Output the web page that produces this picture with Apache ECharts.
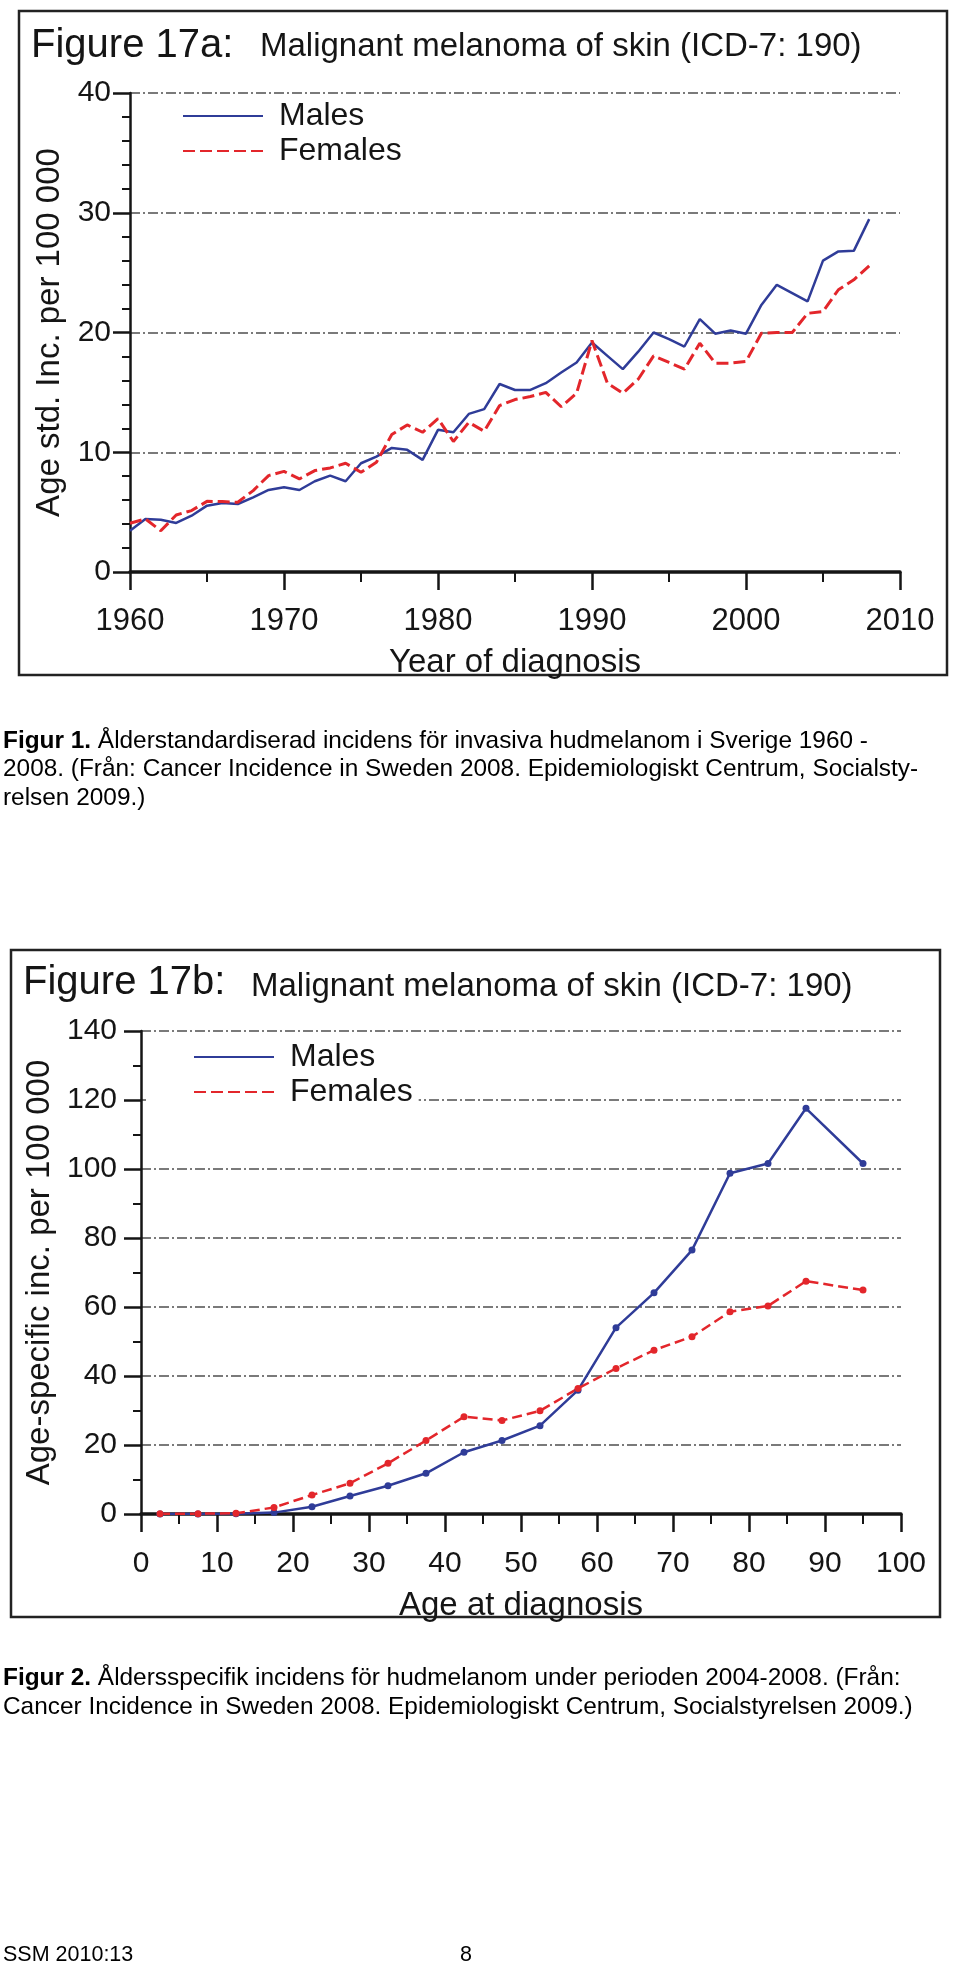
<!DOCTYPE html>
<html><head><meta charset="utf-8">
<script src="https://cdn.jsdelivr.net/npm/echarts@6/dist/echarts.min.js"></script>
<style>html,body{margin:0;padding:0;background:#fff;}#c{width:960px;height:1962px;}</style>
</head><body><div id="c"></div>
<script>
// ---- Figure 17a data: age standardised incidence per 100 000, by year ----
const years = [1960,1961,1962,1963,1964,1965,1966,1967,1968,1969,1970,1971,1972,1973,1974,1975,1976,1977,1978,1979,1980,1981,1982,1983,1984,1985,1986,1987,1988,1989,1990,1991,1992,1993,1994,1995,1996,1997,1998,1999,2000,2001,2002,2003,2004,2005,2006,2007,2008];
const malesStd = [3.45,4.43,4.37,4.1,4.7,5.54,5.77,5.68,6.24,6.85,7.08,6.85,7.58,8.05,7.58,9.08,9.64,10.36,10.2,9.36,11.87,11.67,13.2,13.6,15.7,15.2,15.2,15.77,16.66,17.5,19.16,18.05,16.94,18.4,20.0,19.44,18.83,21.11,19.9,20.17,19.9,22.3,23.98,23.29,22.6,26.0,26.77,26.82,29.47];
const femalesStd = [4.07,4.43,3.45,4.76,5.13,5.9,5.88,5.82,6.8,8.05,8.4,7.77,8.47,8.69,9.08,8.33,9.16,11.48,12.28,11.67,12.8,10.9,12.5,11.75,13.9,14.4,14.65,15.0,13.8,14.93,19.33,15.77,14.93,16.1,18.05,17.5,16.94,19.1,17.44,17.44,17.58,19.94,20.0,20.0,21.6,21.75,23.57,24.4,25.57];
const yearTicks = {min:1960, max:2010, step:10};
const stdTicks = {min:0, max:40, step:10};

// ---- Figure 17b data: age specific incidence per 100 000, 2004-2008 ----
const ages = [2.5,7.5,12.5,17.5,22.5,27.5,32.5,37.5,42.5,47.5,52.5,57.5,62.5,67.5,72.5,77.5,82.5,87.5,95];
const malesAge = [0.0,0.0,0.1,0.4,2.1,5.2,8.2,11.8,17.9,21.3,25.6,35.9,54.0,64.1,76.5,98.75,101.6,117.6,101.6];
const femalesAge = [0.1,0.1,0.2,1.9,5.5,8.9,14.7,21.3,28.2,27.1,29.9,36.4,42.2,47.5,51.4,58.6,60.3,67.5,64.9];
const ageTicks = {min:0, max:100, step:10};
const ageIncTicks = {min:0, max:140, step:20};

const seriesNames = ['Males','Females'];

const REG = "'Liberation Sans', Arial, Helvetica, sans-serif";
const BLUE = '#2f3c98', RED = '#e3262b', INK = '#151515';

function xAx(grid, t, name, lblSize, lblMargin, nameGap){
  return {gridIndex:grid, type:'value', min:t.min, max:t.max, interval:t.step,
    axisLine:{onZero:false, lineStyle:{color:INK, width:3.5}},
    axisTick:{show:true, length:18, lineStyle:{color:INK, width:2.5}},
    minorTick:{show:true, splitNumber:2, length:10, lineStyle:{color:INK, width:2}},
    splitLine:{show:false},
    axisLabel:{fontFamily:REG, fontSize:lblSize, color:INK, margin:lblMargin, formatter:v=>String(v)},
    name:name, nameLocation:'middle', nameGap:nameGap,
    nameTextStyle:{fontFamily:REG, fontSize:33, color:INK}};
}
function yAx(grid, t, minorSplit, lblMargin, name, nameGap){
  return {gridIndex:grid, type:'value', min:t.min, max:t.max, interval:t.step,
    axisLine:{show:true, onZero:false, lineStyle:{color:INK, width:2.5}},
    axisTick:{show:true, length:17, lineStyle:{color:INK, width:2.5}},
    minorTick:{show:true, splitNumber:minorSplit, length:8, lineStyle:{color:INK, width:2}},
    splitLine:{show:true, lineStyle:{color:'#7a7a7a', width:2, type:[10,3,2,3]}},
    axisLabel:{fontFamily:REG, fontSize:30, color:INK, margin:lblMargin, formatter:v=>String(v)},
    name:name, nameLocation:'middle', nameGap:nameGap, nameRotate:90,
    nameTextStyle:{fontFamily:REG, fontSize:33, color:INK}};
}
function legendAt(left, top, padLeft, bg){
  return {orient:'vertical', left:left, top:top, itemWidth:80, itemHeight:14, itemGap:1,
    padding:[4,6,8,padLeft], backgroundColor:bg, data:seriesNames,
    itemStyle:{opacity:0}, selectedMode:false,
    textStyle:{fontFamily:REG, fontSize:32, lineHeight:26, color:INK, padding:[8,0,0,11]}};
}
function caption(x, y, text, size){
  size = size || 24.4;
  return {type:'text', left:x, top:y, style:{text:text, fontFamily:REG, fontSize:size, fill:'#000',
    rich:{b:{fontFamily:REG, fontSize:size, fontWeight:'bold', fill:'#000'}}}};
}
function heading(x, y, text, size){
  return {type:'text', left:x, top:y, style:{text:text, fontFamily:REG, fontSize:size, fill:INK}};
}

const option = {
  animation:false,
  backgroundColor:'#fff',
  grid:[{left:130, top:93, width:770, height:479}, {left:141, top:1031, width:760, height:483}],
  xAxis:[xAx(0, yearTicks, 'Year of diagnosis', 31, 34, 74), xAx(1, ageTicks, 'Age at diagnosis', 30, 35, 75)],
  yAxis:[yAx(0, stdTicks, 5, 19, 'Age std. Inc. per 100 000', 62), yAx(1, ageIncTicks, 2, 24, 'Age-specific inc. per 100 000', 75)],
  legend:[legendAt(135, 95, 47, 'transparent'), legendAt(146, 1036, 47, '#fff')],
  series:[
    {name:'Males', type:'line', xAxisIndex:0, yAxisIndex:0, symbol:'none',
     lineStyle:{color:BLUE, width:2.5}, itemStyle:{color:BLUE},
     data:years.map((y,i)=>[y, malesStd[i]])},
    {name:'Females', type:'line', xAxisIndex:0, yAxisIndex:0, symbol:'none',
     lineStyle:{color:RED, width:3, type:[12,5]}, itemStyle:{color:RED},
     data:years.map((y,i)=>[y, femalesStd[i]])},
    {name:'Males', type:'line', xAxisIndex:1, yAxisIndex:1, symbol:'circle', symbolSize:7,
     lineStyle:{color:BLUE, width:2.5}, itemStyle:{color:BLUE},
     data:ages.map((a,i)=>[a, malesAge[i]])},
    {name:'Females', type:'line', xAxisIndex:1, yAxisIndex:1, symbol:'circle', symbolSize:7,
     lineStyle:{color:RED, width:2.5, type:[10,5]}, itemStyle:{color:RED},
     data:ages.map((a,i)=>[a, femalesAge[i]])}
  ],
  graphic:[
    {type:'rect', shape:{x:19, y:11, width:928, height:664}, style:{fill:'none', stroke:'#222', lineWidth:2.5}, z:-1},
    {type:'rect', shape:{x:11, y:950, width:929, height:667}, style:{fill:'none', stroke:'#222', lineWidth:2.5}, z:-1},
    heading(31, 26, 'Figure 17a:', 40),
    heading(260, 30, 'Malignant melanoma of skin (ICD-7: 190)', 33),
    heading(23, 963, 'Figure 17b:', 40),
    heading(251, 970, 'Malignant melanoma of skin (ICD-7: 190)', 33),
    caption(3, 729, '{b|Figur 1.} Ålderstandardiserad incidens för invasiva hudmelanom i Sverige 1960 -'),
    caption(3, 757.5, '2008. (Från: Cancer Incidence in Sweden 2008. Epidemiologiskt Centrum, Socialsty-'),
    caption(3, 786, 'relsen 2009.)'),
    caption(3, 1666, '{b|Figur 2.} Åldersspecifik incidens för hudmelanom under perioden 2004-2008. (Från:'),
    caption(3, 1695, 'Cancer Incidence in Sweden 2008. Epidemiologiskt Centrum, Socialstyrelsen 2009.)'),
    caption(3, 1944, 'SSM 2010:13', 21.5),
    caption(460, 1944, '8', 21.5)
  ]
};
const chart = echarts.init(document.getElementById('c'), null, {renderer:'canvas'});
chart.setOption(option);
</script></body></html>
